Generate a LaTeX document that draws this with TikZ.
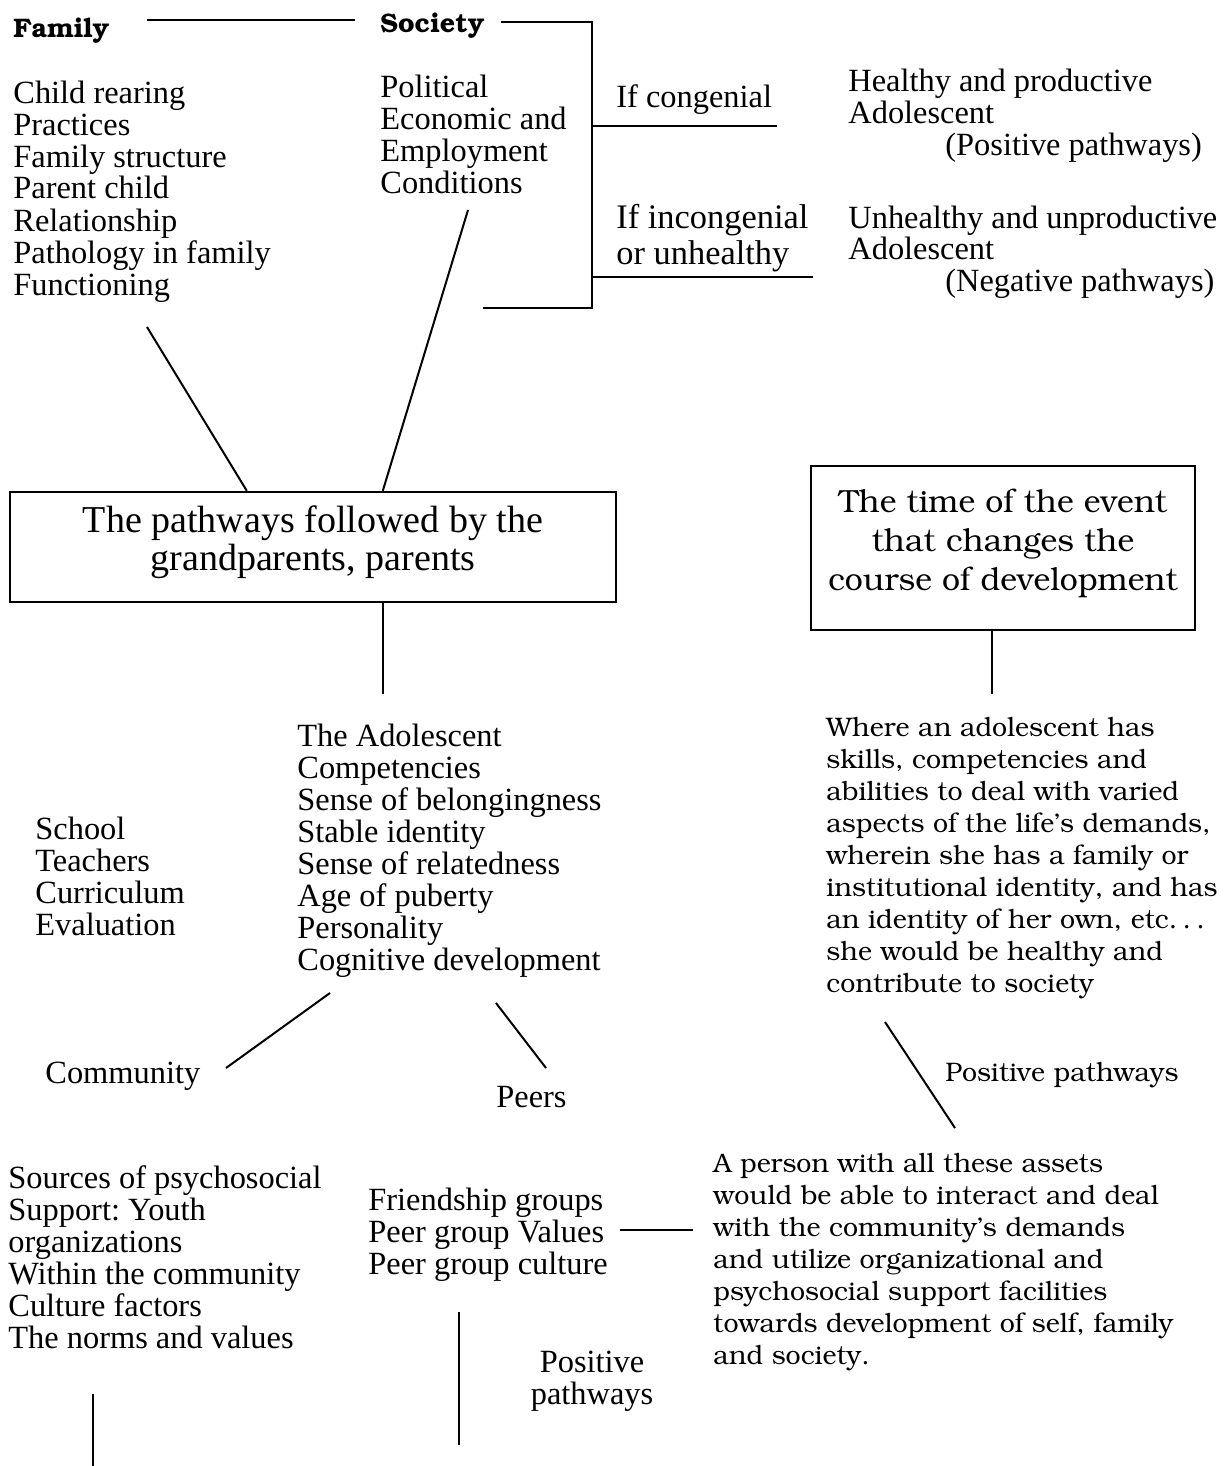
\documentclass[tikz,border=0pt]{standalone}
\usepackage[T1]{fontenc}
\usepackage{fontspec}
\setmainfont{Liberation Serif}
\usepackage{tikz}
\usetikzlibrary{backgrounds,positioning}
\newcommand\bkfont{\fontencoding{T1}\fontfamily{pbk}\selectfont}
\frenchspacing
\pgfdeclarelayer{edgelayer}
\pgfdeclarelayer{nodelayer}
\pgfsetlayers{edgelayer,nodelayer,main}
% multi-line texts sit on the baseline of their last line
\tikzstyle{listtext}=[anchor=base west, align=left, inner sep=0pt, font=\fontsize{16.2}{16}\selectfont]
\tikzstyle{bktext}=[anchor=base west, align=left, inner sep=0pt, font=\bkfont\fontsize{13.4}{16}\selectfont]
\tikzstyle{heading}=[anchor=base west, inner sep=0pt, font=\bkfont\bfseries\fontsize{13.4}{16}\selectfont]
\tikzstyle{bigbox}=[rectangle, draw=black, line width=1.2pt, align=center, inner sep=0pt]
\tikzstyle{link}=[-, draw=black, line width=1pt]

\begin{document}
\begin{tikzpicture}[x=0.5pt, y=-0.5pt]
            \useasboundingbox (0, 0) rectangle (1224, 1466);
            \begin{pgfonlayer}{nodelayer}
                \node [style=heading] (family) at (13, 38) {Family};
                \node [style=heading] (society) at (380, 33) {Society};
                \node [style=listtext] (famlist) at (13, 295) {Child rearing\\Practices\\Family structure\\Parent child\\Relationship\\Pathology in family\\Functioning};
                \node [style=listtext] (soclist) at (380, 194) {Political\\Economic and\\Employment\\Conditions};
                \node [style=listtext] (congenial) at (616, 108) {If congenial};
                \node [style=listtext, font=\fontsize{17.2}{18}\selectfont] (incongenial) at (616, 264) {If\ incongenial\\or unhealthy};
                \node [style=listtext] (healthy) at (848, 156) {Healthy and productive\\Adolescent\\\hspace{48.5pt}(Positive pathways)};
                \node [style=listtext] (unhealthy) at (848, 292) {Unhealthy and unproductive\\Adolescent\\\hspace{48.5pt}(Negative pathways)};

                \node [style=bigbox, minimum width=303pt, minimum height=55pt, text depth=9pt, font=\fontsize{19}{19}\selectfont] (pathbox) at (313, 547) {The pathways followed by the\\grandparents, parents};
                \node [style=bigbox, minimum width=192pt, minimum height=82pt, text depth=8pt, font=\bkfont\fontsize{16}{19.5}\selectfont] (timebox) at (1003, 548) {The time of the event\\that changes the\\course of development};

                \node [style=listtext] (adolescent) at (297, 970) {The Adolescent\\Competencies\\Sense of belongingness\\Stable identity\\Sense of relatedness\\Age of puberty\\Personality\\Cognitive development};
                \node [style=listtext] (school) at (35, 935) {School\\Teachers\\Curriculum\\Evaluation};
                \node [style=bktext] (where) at (826, 992) {Where an adolescent has\\skills, competencies and\\abilities to deal with varied\\aspects of the life's demands,\\wherein she has a family or\\institutional identity, and has\\an identity of her own, etc\dots\\she would be healthy and\\contribute to society};

                \node [style=listtext] (community) at (45, 1083) {Community};
                \node [style=listtext] (peers) at (496, 1107) {Peers};
                \node [style=bktext] (pospathA) at (945, 1081) {Positive pathways};

                \node [style=listtext] (sources) at (8, 1348) {Sources of psychosocial\\Support: Youth\\organizations\\Within the community\\Culture factors\\The norms and values};
                \node [style=listtext] (friends) at (368, 1274) {Friendship groups\\Peer group Values\\Peer group culture};
                \node [style=bktext] (person) at (713, 1364) {A person with all these assets\\would be able to interact and deal\\with the community's demands\\and utilize organizational and\\psychosocial support facilities\\towards development of self, family\\and society.};
                \node [style=listtext, anchor=base, align=center] (pospathB) at (592, 1404) {Positive\\pathways};
            \end{pgfonlayer}

            \coordinate (famsoc1) at (147, 20);
            \coordinate (famsoc2) at (355, 20);
            \coordinate (brtop) at (592, 22);
            \coordinate (brbot) at (592, 308);
            \coordinate (brend) at (483, 308);
            \coordinate (congend) at (777, 126);
            \coordinate (incongend) at (813, 277);
            \coordinate (famfoot) at (147, 327);
            \coordinate (socfoot) at (468, 210);
            \coordinate (adoltop) at (383, 694);
            \coordinate (wheretop) at (992, 694);
            \coordinate (commtop) at (330, 993);
            \coordinate (commend) at (226, 1068);
            \coordinate (peertop) at (496, 1003);
            \coordinate (peerend) at (546, 1068);
            \coordinate (posA1) at (885, 1022);
            \coordinate (posA2) at (955, 1128);
            \coordinate (friendend) at (693, 1230);
            \coordinate (peerdown1) at (459, 1312);
            \coordinate (peerdown2) at (459, 1445);
            \coordinate (srcdown1) at (93, 1394);
            \coordinate (srcdown2) at (93, 1466);

            \begin{pgfonlayer}{edgelayer}
                \draw [style=link] (famsoc1) to (famsoc2);
                \draw [style=link] ([xshift=8pt]society.east |- brtop) to (brtop) to (brbot) to (brend);
                \draw [style=link] (brtop |- congend) to (congend);
                \draw [style=link] (brtop |- incongend) to (incongend);

                \draw [style=link] (famfoot) to ([xshift=119pt]pathbox.north west);
                \draw [style=link] (socfoot) to ([xshift=187pt]pathbox.north west);
                \draw [style=link] (pathbox.south -| adoltop) to (adoltop);
                \draw [style=link] (timebox.south -| wheretop) to (wheretop);

                \draw [style=link] (commtop) to (commend);
                \draw [style=link] (peertop) to (peerend);
                \draw [style=link] (posA1) to (posA2);
                \draw [style=link] ([xshift=6pt]friends.east |- friendend) to (friendend);
                \draw [style=link] (peerdown1) to (peerdown2);
                \draw [style=link] (srcdown1) to (srcdown2);
            \end{pgfonlayer}
        \end{tikzpicture}
\end{document}
